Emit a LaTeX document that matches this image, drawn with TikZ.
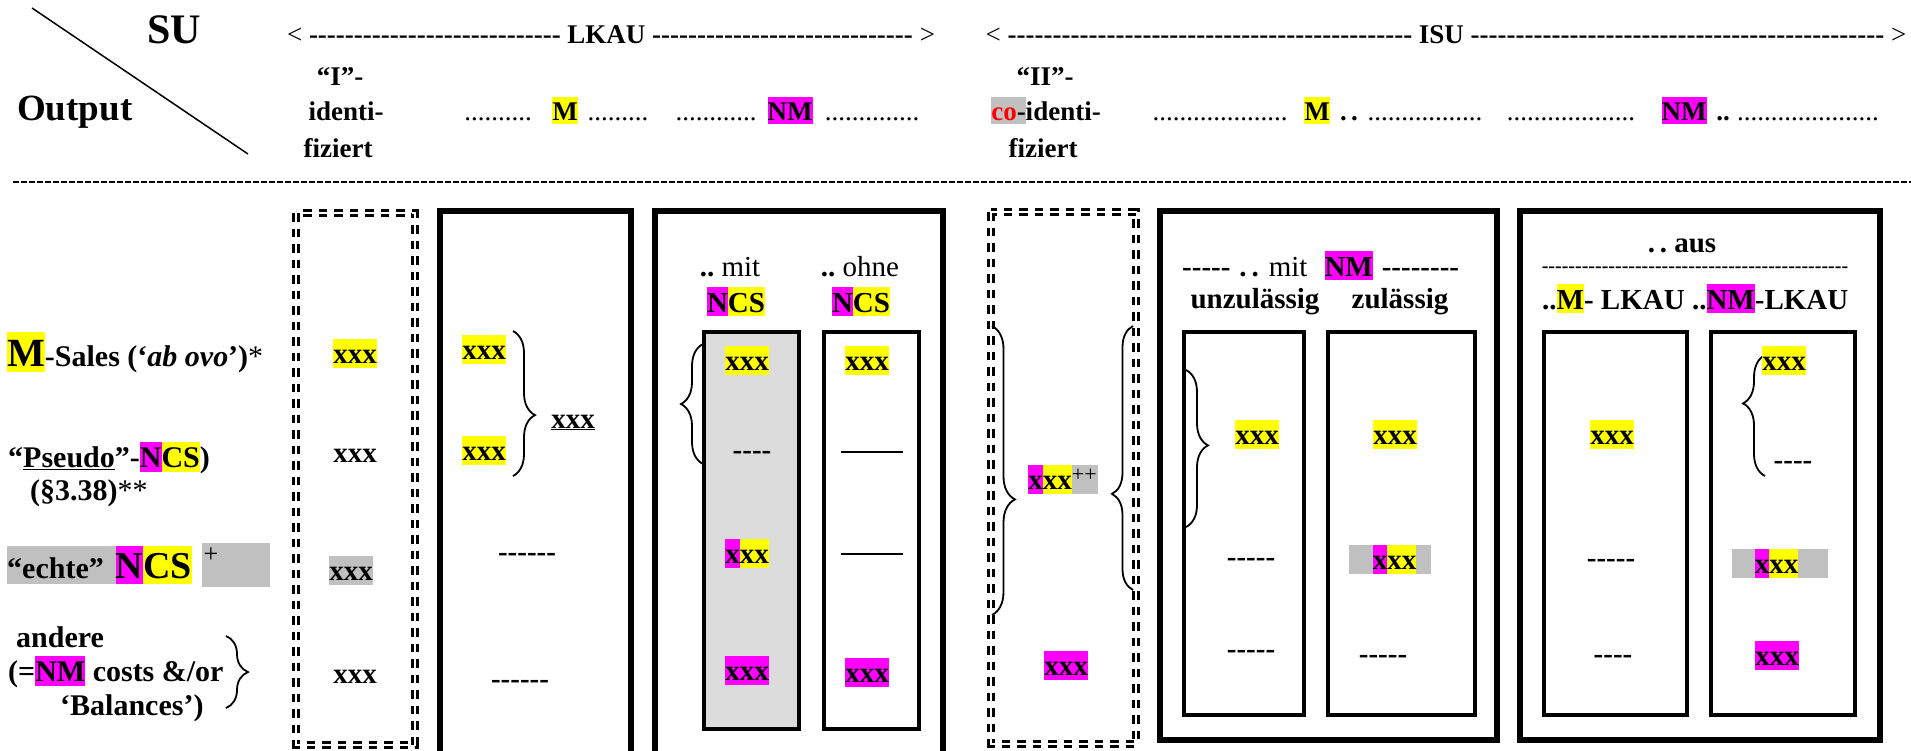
\documentclass[tikz,border=0pt]{standalone}
\usepackage{fontspec}
\setmainfont{Liberation Serif}[Ligatures=TeXOff]
\usepackage{xcolor}
\usetikzlibrary{decorations.pathreplacing}

\definecolor{hlyellow}{HTML}{FFFF00}
\definecolor{hlmagenta}{HTML}{FF00FF}
\definecolor{hlgray}{HTML}{C0C0C0}
\definecolor{colgray}{HTML}{DCDCDC}

% highlight boxes as in the word processor
\newcommand\hlstrut{\rule[-0.15em]{0pt}{1.0em}}
\newcommand\hly[1]{{\setlength\fboxsep{0pt}\colorbox{hlyellow}{\hlstrut#1}}}
\newcommand\hlm[1]{{\setlength\fboxsep{0pt}\colorbox{hlmagenta}{\hlstrut#1}}}
\newcommand\hlg[1]{{\setlength\fboxsep{0pt}\colorbox{hlgray}{\hlstrut#1}}}
\newcommand\hyph[1]{\foreach\hcnt in {1,...,#1}{-}}
\newcommand\dotrow[1]{{\mdseries\foreach\hcnt in {1,...,#1}{.}}}

\tikzset{
  hdr/.style={font=\fontsize{27}{32}\selectfont\bfseries},
  lbl/.style={font=\fontsize{30}{34}\selectfont\bfseries},
  cell/.style={font=\fontsize{29}{34}\selectfont\bfseries},
  outerbox/.style={draw,line width=5.5pt},
  innerbox/.style={draw,line width=4pt},
  dashbox/.style={draw,double,double distance=2.7pt,line width=2.7pt,
                  dash pattern=on 8.5pt off 7pt},
  hdrrule/.style={line width=2.2pt,dash pattern=on 6pt off 2pt},
  curly/.style 2 args={decorate,decoration={brace,amplitude=#1,aspect=#2},
                       line width=1.8pt},
  curlyl/.style 2 args={decorate,decoration={brace,mirror,amplitude=#1,aspect=#2},
                        line width=1.8pt}
}

\begin{document}
\begin{tikzpicture}[x=1pt,y=-1pt,every node/.style={inner sep=0pt}]
  \useasboundingbox (0,0) rectangle (1911,750);
  \clip (0,0) rectangle (1911,750);

  % corner of the table
  \coordinate (slashtop) at (32,8);
  \coordinate (slashbot) at (248,154);
  \draw[line width=1.5pt] (slashtop) -- (slashbot);
  \node[font=\fontsize{42}{42}\selectfont\bfseries] (su) at (174,30) {SU};
  \node[font=\fontsize{37}{37}\selectfont\bfseries,anchor=base west] (output) at (17,120) {Output};

  % column heads
  \node[hdr,anchor=base] (lkau) at (611,43) {{\mdseries<} \hyph{28} LKAU \hyph{29} {\mdseries>}};
  \node[hdr,anchor=base] (isu) at (1446,43) {{\mdseries<} \hyph{45} ISU \hyph{46} {\mdseries>}};

  \node[hdr,anchor=base] (iquote) at (340,85) {“I”-};
  \node[hdr,anchor=base] (iident) at (346,120) {identi-};
  \node[hdr,anchor=base] (ifiz) at (338,157) {fiziert};

  \node[hdr,anchor=base] (ldotsa) at (498,120) {\dotrow{10}};
  \node[hdr,anchor=base] (lkm) at (565,120) {\hly{M}};
  \node[hdr,anchor=base] (ldotsb) at (618,120) {\dotrow{9}};
  \node[hdr,anchor=base] (ldotsc) at (716,120) {\dotrow{12}};
  \node[hdr,anchor=base] (lknm) at (790,120) {\hlm{NM}};
  \node[hdr,anchor=base] (ldotsd) at (872,120) {\dotrow{14}};

  \node[hdr,anchor=base] (iiquote) at (1045,85) {“II”-};
  \node[hdr,anchor=base] (iiident) at (1046,120) {\hlg{\textcolor{red}{co}-}identi-};
  \node[hdr,anchor=base] (iifiz) at (1043,157) {fiziert};

  \node[hdr,anchor=base] (idotsa) at (1220,120) {\dotrow{20}};
  \node[hdr,anchor=base] (ism) at (1317,120) {\hly{M}};
  \node[hdr,anchor=base] (ismdots) at (1349,120) {.\,.};
  \node[hdr,anchor=base] (idotsb) at (1425,120) {\dotrow{17}};
  \node[hdr,anchor=base] (idotsc) at (1571,120) {\dotrow{19}};
  \node[hdr,anchor=base] (isnm) at (1684,120) {\hlm{NM}};
  \node[hdr,anchor=base] (isnmdots) at (1723,120) {..};
  \node[hdr,anchor=base] (idotsd) at (1808,120) {\dotrow{21}};

  \draw[hdrrule] (13,182) -- (1911,182);

  % row labels
  \node[lbl,anchor=base west] (msales) at (7,366)
    {{\fontsize{40}{40}\selectfont\hly{M}}-Sales (‘\textit{ab ovo}’)\textmd{*}};
  \node[lbl,anchor=base west] (pseudo) at (8,467) {“\underline{Pseudo}”-\hlm{N}\hly{CS})};
  \node[lbl,anchor=base west] (para) at (30,500) {(§3.38)\textmd{**}};
  \node[lbl,anchor=west,fill=hlgray] (echte) at (7,565)
    {“echte”\hspace{12pt}{\fontsize{38}{38}\selectfont\hlm{N}\hly{CS}}};
  \node[fill=hlgray,minimum width=68pt,minimum height=43.7pt,anchor=west] (plusbox) at (202,565) {};
  \node[font=\fontsize{26}{26}\selectfont] (plussign) at (211,555) {+};
  \node[lbl,anchor=base west] (andere) at (16,647) {andere};
  \node[lbl,anchor=base west] (nmcost) at (8,681) {(=\hlm{NM} costs \&/or};
  \node[lbl,anchor=base west] (balances) at (60,715) {‘Balances’)};
  \draw[curly={22}{0.5}] (226,636) -- (226,708);

  % "I"-identifiziert
  \draw[dashbox] (296,213) rectangle (415,745);
  \node[cell] (ia) at (355,353) {\hly{xxx}};
  \node[cell] (ib) at (355,456) {xxx};
  \node[cell] (ic) at (351,570) {\hlg{xxx}};
  \node[cell] (id) at (355,677) {xxx};

  % LKAU, M
  \draw[outerbox] (440,211) rectangle (631,760);
  \node[cell] (ma) at (484,349) {\hly{xxx}};
  \node[cell] (mb) at (484,450) {\hly{xxx}};
  \draw[curly={22}{0.58}] (513,331) -- (513,476);
  \node[cell,anchor=base] (msum) at (573,428) {\underline{xxx}};
  \node[cell] (mc) at (527,557) {------};
  \node[cell] (md) at (520,684) {------};

  % LKAU, NM
  \draw[outerbox] (655,211) rectangle (943,760);
  \node[cell,anchor=base] (mithd) at (730,276) {..\ \textmd{mit}};
  \node[cell,anchor=base] (ohnehd) at (860,276) {..\ \textmd{ohne}};
  \node[cell,anchor=base] (mitncs) at (736,312) {\hlm{N}\hly{CS}};
  \node[cell,anchor=base] (ohnencs) at (861,312) {\hlm{N}\hly{CS}};
  \draw[innerbox,fill=colgray] (704,332) rectangle (799,729);
  \draw[innerbox] (824,332) rectangle (919,729);
  \draw[curlyl={22}{0.5}] (703,344) -- (703,464);
  \node[cell] (mita) at (747,360) {\hly{xxx}};
  \node[cell] (mitb) at (752,455) {----};
  \node[cell] (mitc) at (747,553) {\hlm{x}\hly{xx}};
  \node[cell] (mitd) at (747,670) {\hlm{xxx}};
  \node[cell] (ohnea) at (867,360) {\hly{xxx}};
  \node (ohneb) at (872,452) {\rule{62pt}{2.7pt}};
  \node (ohnec) at (872,554) {\rule{62pt}{2.7pt}};
  \node[cell] (ohned) at (867,672) {\hlm{xxx}};

  % "II"-co-identifiziert
  \draw[dashbox] (991,212) rectangle (1136,744);
  \draw[curly={23}{0.6}] (992,326) -- (992,615);
  \draw[curlyl={21}{0.636}] (1133,326) -- (1133,590);
  \node[cell] (coa) at (1063,479)
    {\hlm{x}\hly{xx}\hlg{\raisebox{8pt}{\fontsize{22}{22}\selectfont\mdseries ++}\hspace{1pt}}};
  \node[cell] (cob) at (1066,665) {\hlm{xxx}};

  % ISU, mit NM
  \draw[outerbox] (1160,211) rectangle (1497,740);
  \node[cell,anchor=base west] (nmhd) at (1182,276)
    {-----\hspace{9pt}.\,.\hspace{10pt}\textmd{mit}\hspace{17pt}\hlm{NM}\hspace{9pt}--------};
  \node[cell,anchor=base] (unzhd) at (1255,308) {unzulässig};
  \node[cell,anchor=base] (zulhd) at (1400,308) {zulässig};
  \draw[innerbox] (1184,332) rectangle (1304,715);
  \draw[innerbox] (1328,332) rectangle (1475,715);
  \draw[curly={22}{0.48}] (1186,370) -- (1186,527);
  \node[cell] (unza) at (1257,434) {\hly{xxx}};
  \node[cell] (unzb) at (1251,562) {-----};
  \node[cell] (unzc) at (1251,654) {-----};
  \node[cell] (zula) at (1395,434) {\hly{xxx}};
  \node[cell] (zulb) at (1390,559) {\hlg{\hspace{24pt}\hlm{x}\hly{xx}\hspace{15pt}}};
  \node[cell] (zulc) at (1383,659) {-----};

  % ISU, aus LKAU
  \draw[outerbox] (1520,211) rectangle (1880,740);
  \node[cell,anchor=base] (aushd) at (1682,252) {.\,.\ aus};
  \node[font=\fontsize{20}{20}\selectfont\bfseries] (ausline) at (1695,270) {\hyph{46}};
  \node[cell,anchor=base west] (aussub) at (1542,309)
    {..\hly{M}- LKAU ..\hlm{NM}-LKAU};
  \draw[innerbox] (1544,332) rectangle (1687,715);
  \draw[innerbox] (1711,332) rectangle (1855,715);
  \node[cell] (ausma) at (1612,434) {\hly{xxx}};
  \node[cell] (ausmb) at (1611,563) {-----};
  \node[cell] (ausmc) at (1613,659) {----};
  \draw[curlyl={22}{0.4}] (1765,355) -- (1765,476);
  \node[cell] (ausna) at (1784,360) {\hly{xxx}};
  \node[cell] (ausnb) at (1793,465) {----};
  \node[cell] (ausnc) at (1780,563) {\hlg{\hspace{23pt}\hlm{x}\hly{xx}\hspace{30pt}}};
  \node[cell] (ausnd) at (1777,655) {\hlm{xxx}};
\end{tikzpicture}
\end{document}
